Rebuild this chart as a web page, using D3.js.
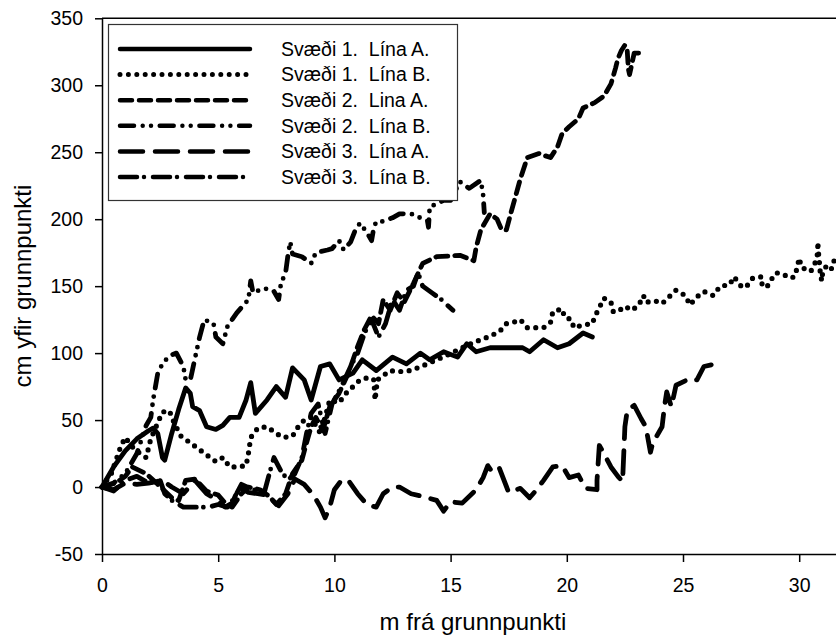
<!DOCTYPE html>
<html>
<head>
<meta charset="utf-8">
<script src="https://cdn.jsdelivr.net/npm/d3@7"></script>
<style>
  body { margin: 0; background: #fff; }
  text { font-family: Arial, "Liberation Sans", sans-serif; fill: #000; }
</style>
</head>
<body>
<div id="chart"></div>
<script>
// ticks
const xTicks = [0, 5, 10, 15, 20, 25, 30];
const yTicks = [-50, 0, 50, 100, 150, 200, 250, 300, 350];

const seriesNames = [
  "Svæði 1.  Lína A.",
  "Svæði 1.  Lína B.",
  "Svæði 2.  Lina A.",
  "Svæði 2.  Lína B.",
  "Svæði 3.  Lína A.",
  "Svæði 3.  Lína B."
];

// [m frá grunnpunkti, cm yfir grunnpunkti]
const sv1A = [[0,0],[0.5,15],[1.0,27],[1.5,36],[2.0,42],[2.2,44],[2.4,40],[2.6,22],[2.7,20],[3.0,40],[3.3,58],[3.6,74],[3.8,70],[3.9,60],[4.2,57],[4.5,45],[4.9,43],[5.2,46],[5.5,52],[5.9,52],[6.2,65],[6.4,78],[6.6,55],[7.1,65],[7.5,75],[7.9,67],[8.2,89],[8.7,80],[9.0,65],[9.4,90],[9.8,92],[10.2,80],[10.8,85],[11.2,95],[11.8,87],[12.5,97],[13.1,92],[13.7,100],[14.1,95],[14.7,101],[15.3,97],[15.7,107],[16.1,101],[16.7,104],[17.3,104],[18.1,104],[18.4,101],[19.0,110],[19.6,104],[20.1,107],[20.7,115],[21.1,112]];

const sv1B = [[0,0],[0.4,10],[0.8,30],[1.0,37],[1.4,28],[1.9,22],[2.1,36],[2.6,56],[2.9,57],[3.1,48],[3.4,38],[3.8,33],[4.5,24],[4.9,19],[5.2,22],[5.5,15],[5.8,15],[6.2,16],[6.3,25],[6.4,37],[6.7,44],[7.1,45],[7.5,40],[7.8,37],[8.2,38],[8.4,44],[8.7,50],[9.0,52],[9.4,40],[9.6,52],[9.8,65],[10.2,63],[10.5,70],[10.8,75],[11.1,80],[11.5,82],[11.7,80],[11.75,65],[11.85,80],[12.4,87],[12.7,86],[13.3,87],[14.0,92],[14.8,98],[15.5,104],[16.0,108],[16.6,112],[17.1,116],[17.4,122],[17.7,123],[18.0,125],[18.3,119],[18.6,119],[19.0,119],[19.3,123],[19.4,131],[19.8,133],[19.9,127],[20.2,125],[20.3,119],[20.7,121],[21.1,122],[21.2,127],[21.4,134],[21.6,141],[21.9,138],[22.0,131],[22.2,131],[22.5,135],[22.8,132],[23.1,136],[23.3,143],[23.4,138],[23.8,139],[24.1,137],[24.4,142],[24.7,147],[25.1,143],[25.3,136],[25.6,142],[25.9,146],[26.3,143],[26.6,150],[27.0,151],[27.2,157],[27.5,150],[27.7,149],[28.0,156],[28.4,157],[28.4,151],[28.6,149],[28.8,155],[29.0,160],[29.3,159],[29.6,156],[29.8,157],[29.9,163],[30.0,171],[30.1,164],[30.5,161],[30.7,168],[30.8,175],[30.8,183],[30.85,170],[30.9,164],[30.9,157],[31.0,154],[31.0,160],[31.2,166],[31.4,163],[31.5,169],[31.8,168],[32,172]];

const sv2A = [[0,0],[0.6,3],[1.0,8],[1.3,15],[1.9,10],[2.4,2],[2.7,-3],[3.0,-8],[3.3,-10],[3.6,5],[4.0,6],[4.5,-3],[5.0,-6],[5.3,-12],[5.6,-15],[6.0,-5],[6.3,0],[6.8,-2],[7.2,-7],[7.5,-13],[7.9,-5],[8.2,10],[8.6,20],[8.8,33],[9.0,45],[9.2,52],[9.5,42],[9.8,60],[10.2,70],[10.6,85],[11.0,105],[11.3,118],[11.6,128],[11.9,122],[12.1,140],[12.4,132],[12.7,145],[13.0,138],[13.4,152],[13.8,167],[14.4,172],[15.4,173],[16.0,169],[16.1,179],[16.3,192],[16.7,204],[17.0,200],[17.2,192],[17.4,192],[17.6,205],[18.0,230],[18.3,246],[18.8,249],[19.3,246],[19.6,254],[19.8,264],[20.1,269],[20.5,275],[20.7,283],[21.2,287],[21.6,292],[21.9,301],[22.1,313],[22.2,320],[22.35,326],[22.5,330],[22.6,326],[22.65,312],[22.7,308],[22.9,324],[23.1,324]];

const sv2B = [[0,0],[0.5,3],[1.0,10],[1.5,25],[1.9,46],[2.1,52],[2.2,65],[2.4,85],[2.6,92],[2.9,98],[3.2,100],[3.5,90],[3.6,80],[3.8,80],[3.9,88],[4.1,104],[4.2,112],[4.4,125],[4.8,122],[4.9,112],[5.2,107],[5.4,120],[5.8,130],[6.1,136],[6.3,140],[6.4,154],[6.5,145],[6.9,148],[7.2,148],[7.4,146],[7.6,140],[7.7,152],[7.9,160],[8.0,173],[8.1,183],[8.2,174],[8.6,172],[9.0,167],[9.2,175],[9.7,177],[9.9,178],[10.2,184],[10.4,177],[10.7,183],[10.9,192],[11.1,197],[11.4,190],[11.6,184],[11.7,194],[11.8,198],[12.0,198],[12.5,201],[12.8,204],[13.3,204],[13.7,201],[14.0,199],[14.05,194],[14.1,209],[14.7,214],[15.0,214],[15.4,228],[15.8,223],[16.3,229],[16.4,218],[16.45,205]];

const sv3A = [[0,0],[0.5,-2],[1.0,3],[1.5,2],[2.0,3],[2.6,5],[3.0,0],[3.5,-5],[4.0,5],[4.5,-5],[5.0,-10],[5.3,-15],[5.6,-12],[5.9,0],[6.3,-4],[6.7,-5],[7.1,-6],[7.6,-14],[8.0,-5],[8.3,6],[8.7,2],[9.1,-6],[9.4,-15],[9.6,-23],[9.8,-15],[10.0,-2],[10.3,5],[10.6,5],[11.0,-5],[11.4,-13],[11.8,-15],[12.1,-5],[12.5,0],[12.8,0],[13.3,-5],[13.8,-7],[14.4,-10],[14.7,-18],[15.0,-11],[15.5,-12],[16.1,-2],[16.4,7],[16.6,16],[16.8,11],[17.1,14],[17.5,-4],[18.0,-1],[18.4,-8],[18.7,-2],[19.0,5],[19.4,15],[19.8,16],[20.1,7],[20.5,9],[20.8,-1],[21.3,-2],[21.3,5],[21.4,31],[21.6,25],[21.9,15],[22.2,8],[22.4,4],[22.5,45],[22.6,57],[22.9,61],[23.2,51],[23.4,45],[23.6,26],[23.7,33],[24.1,45],[24.2,60],[24.3,71],[24.5,60],[24.7,76],[25.3,81],[25.6,80],[25.9,90],[26.4,92]];

const sv3B = [[0,0],[0.5,-3],[1.0,5],[1.5,8],[2.0,3],[2.5,5],[2.7,-5],[3.0,-10],[3.5,-15],[4.0,-15],[4.6,-15],[5.0,-13],[5.4,-15],[5.7,-8],[6.0,2],[6.5,-2],[7.0,-3],[7.2,10],[7.4,22],[7.7,12],[8.0,5],[8.3,10],[8.6,22],[8.8,40],[9.0,55],[9.3,62],[9.6,40],[9.9,62],[10.3,75],[10.7,90],[11.0,100],[11.3,115],[11.6,125],[11.9,112],[12.2,122],[12.5,140],[12.8,132],[13.1,147],[13.4,150],[13.6,160],[13.8,150],[14.2,145],[14.6,140],[15.1,132]];

const allSeries = [sv1A, sv1B, sv2A, sv2B, sv3A, sv3B];
const dashes = ["none", "0 8.4", "12 7", "14 8.7 0 8.3 0 8.7", "23 12", "17 7 0 9"];

const width = 836;
const height = 642;
const margin = { top: 18.3, left: 102, bottom: 88, right: 0 };

const svg = d3.select("#chart").append("svg")
  .attr("width", width)
  .attr("height", height);

const x = d3.scaleLinear().domain([0, 32]).range([margin.left, margin.left + 32 * 23.24]);
const y = d3.scaleLinear().domain([-50, 350]).range([554, margin.top]);

// series lines
const line = d3.line().x(d => x(d[0])).y(d => y(d[1]));

svg.append("g").selectAll("path")
  .data(allSeries)
  .enter().append("path")
  .attr("d", line)
  .attr("fill", "none")
  .attr("stroke", "#000")
  .attr("stroke-width", (d, i) => i === 1 ? 5.2 : 4.8)
  .attr("stroke-linecap", "round")
  .attr("stroke-linejoin", "round")
  .attr("stroke-dasharray", (d, i) => dashes[i]);

// axes (plain hyphen for negatives, as in the original)
const fmt = d => String(d);
const xAxis = svg.append("g")
  .attr("transform", `translate(0,${y(-50)})`)
  .call(d3.axisBottom(x).tickValues(xTicks).tickFormat(fmt).tickSize(8).tickSizeOuter(0).tickPadding(16));
const yAxis = svg.append("g")
  .attr("transform", `translate(${margin.left},0)`)
  .call(d3.axisLeft(y).tickValues(yTicks).tickFormat(fmt).tickSize(7).tickSizeOuter(0).tickPadding(12));

[xAxis, yAxis].forEach(a => {
  a.selectAll("path, line").attr("stroke", "#000").attr("stroke-width", 1.5);
  a.selectAll("text").style("font-size", "19.5px").attr("fill", "#000");
});

// top frame
svg.append("line")
  .attr("x1", margin.left).attr("x2", width)
  .attr("y1", margin.top).attr("y2", margin.top)
  .attr("stroke", "#000").attr("stroke-width", 1.5);

// legend
const legend = svg.append("g");
legend.append("rect")
  .attr("x", 108.5).attr("y", 24.5)
  .attr("width", 349).attr("height", 176)
  .attr("fill", "#fff")
  .attr("stroke", "#333").attr("stroke-width", 1.2);

const rowY = d3.scaleLinear().domain([0, 5]).range([49, 177]);
seriesNames.forEach((name, i) => {
  legend.append("line")
    .attr("x1", 120).attr("x2", 250)
    .attr("y1", rowY(i)).attr("y2", rowY(i))
    .attr("stroke", "#000")
    .attr("stroke-width", i === 1 ? 5 : 4.5)
    .attr("stroke-linecap", "round")
    .attr("stroke-dasharray", dashes[i]);
  legend.append("text")
    .attr("x", 281).attr("y", rowY(i))
    .attr("dy", "0.35em")
    .style("font-size", "19.5px")
    .style("white-space", "pre")
    .text(name);
});

// axis titles
svg.append("text")
  .attr("x", 473).attr("y", 630)
  .attr("text-anchor", "middle")
  .style("font-size", "24px")
  .text("m frá grunnpunkti");

svg.append("text")
  .attr("transform", "translate(31,286) rotate(-90)")
  .attr("text-anchor", "middle")
  .style("font-size", "24px")
  .text("cm yfir grunnpunkti");
</script>
</body>
</html>
